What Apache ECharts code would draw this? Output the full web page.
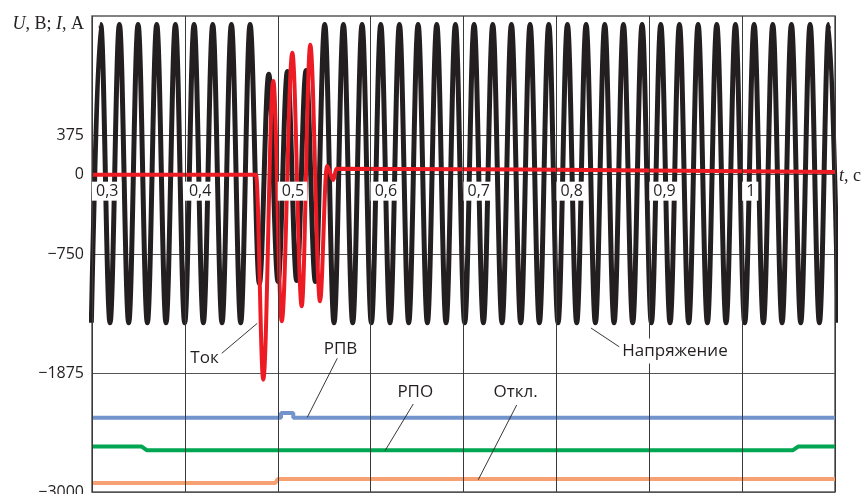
<!DOCTYPE html>
<html><head><meta charset="utf-8">
<script src="https://cdn.jsdelivr.net/npm/echarts@6/dist/echarts.min.js"></script>
<style>html,body{margin:0;padding:0;background:#fff}#c{width:866px;height:494px}</style>
</head><body><div id="c"></div>
<script>
// ---- data ----
const xTickLabels = ['0,3','0,4','0,5','0,6','0,7','0,8','0,9','1',''];
const yTickValues = [375, 0, -750, -1875, -3000];

// voltage extremes (peaks / troughs), time in s
const voltageTime = [
0.2993,0.3094,0.3194,0.3295,0.3395,0.3496,0.3596,0.3697,0.3797,0.3898,
0.3998,0.4099,0.4199,0.4300,0.4400,0.4501,0.4601,0.4702,0.4802,0.4903,
0.5003,0.5104,0.5204,0.5305,0.5405,0.5506,0.5606,0.5707,0.5807,0.5908,
0.6008,0.6109,0.6209,0.6310,0.6410,0.6511,0.6611,0.6712,0.6812,0.6913,
0.7013,0.7114,0.7214,0.7315,0.7415,0.7516,0.7616,0.7717,0.7817,0.7918,
0.8018,0.8119,0.8219,0.8320,0.8420,0.8521,0.8621,0.8722,0.8822,0.8923,
0.9023,0.9124,0.9224,0.9325,0.9425,0.9526,0.9626,0.9727,0.9827,0.9928,
1.0028,1.0129,1.0229,1.0330,1.0430,1.0531,1.0631,1.0732,1.0832,1.0933,
1.1033];
const voltageValue = [
-1400,1420,-1400,1420,-1400,1420,-1400,1420,-1400,1420,
-1400,1420,-1400,1420,-1400,1420,-1400,1420,-1030,950,
-1010,975,-1000,985,-1010,1420,-1400,1420,-1400,1420,
-1400,1420,-1400,1420,-1400,1420,-1400,1420,-1400,1420,
-1400,1420,-1400,1420,-1400,1420,-1400,1420,-1400,1420,
-1400,1420,-1400,1420,-1400,1420,-1400,1420,-1400,1420,
-1400,1420,-1400,1420,-1400,1420,-1400,1420,-1400,1420,
-1400,1420,-1400,1420,-1400,1420,-1400,1420,-1400,1420,
-1400];

// current
const currentTime  = [0.3000,0.4766,0.4844,0.4952,0.5043,0.5157,0.5258,0.5350,0.5455,0.5530,0.5598,0.5632,1.1000];
const currentValue = [0,0,-1938,886,-1386,1153,-1244,1229,-1197,82,-50,55,25];

// discrete signals
const rpvTime  = [0.3,0.5035,0.5035,0.5167,0.5167,1.1];
const rpvValue = [-2297,-2297,-2253,-2253,-2297,-2297];
const rpoTime  = [0.3,0.3535,0.3589,1.0548,1.0602,1.1];
const rpoValue = [-2571,-2571,-2605,-2605,-2571,-2571];
const otklTime  = [0.3,0.4974,0.5000,1.1];
const otklValue = [-2915,-2915,-2877,-2877];

// annotation anchors (data coordinates)
const annotations = [
  {text:'Ток',        at:[0.4211,-1733], from:[0.4397,-1689], to:[0.4780,-1405]},
  {text:'РПВ',        at:[0.5676,-1648], from:[0.5641,-1736], to:[0.5318,-2294]},
  {text:'РПО',        at:[0.6481,-2059], from:[0.6459,-2168], to:[0.6155,-2610]},
  {text:'Откл.',      at:[0.7562,-2059], from:[0.7573,-2177], to:[0.7159,-2884]},
  {text:'Напряжение', at:[0.9277,-1667], from:[0.8685,-1632], to:[0.8373,-1450], bg:true}
];

// ---- chart ----
const pairs = (xs, ys) => xs.map((x, i) => [x, ys[i]]);
const FONT = '"Open Sans", "Noto Sans", sans-serif';
const SERIF = '"Liberation Serif", "DejaVu Serif", serif';
const INK = '#231f20';
const GRID = {left:92, right:31, top:16, bottom:2};
const Y_MIN = -3000, Y_MAX = 1500;
const gridH = 494 - GRID.top - GRID.bottom;
const chart = echarts.init(document.getElementById('c'), null, {renderer:'canvas'});

chart.setOption({
  animation: false,
  grid: Object.assign({show:true, borderColor:'#5a5a5a', borderWidth:1.5,
         containLabel:false, outerBoundsMode:'none'}, GRID),
  xAxis: {
    type:'value', min:0.3, max:1.1, interval:0.1, z:10,
    position:'bottom', offset: -gridH * (0 - Y_MIN) / (Y_MAX - Y_MIN),
    name:'{i|t}{n|, с}', nameLocation:'end', nameGap:4, nameMoveOverlap:false,
    nameTextStyle:{align:'left', verticalAlign:'middle', padding:[4,0,0,0],
      rich:{i:{fontFamily:SERIF, fontStyle:'italic', fontSize:18, color:INK},
            n:{fontFamily:SERIF, fontSize:18, color:INK}}},
    axisLine:{show:false, onZero:false},
    axisTick:{show:false},
    axisLabel:{
      show:true, margin:7, align:'left', showMaxLabel:false,
      formatter: function (v) { return xTickLabels[Math.round((v - 0.3) / 0.1)] || ''; },
      backgroundColor:'#fff', padding:[2,3,1,4],
      fontFamily:FONT, fontSize:16, color:INK
    },
    splitLine:{show:true, lineStyle:{color:'#3a3a3a', width:1}}
  },
  yAxis: {
    type:'value', min:Y_MIN, max:Y_MAX, interval:375,
    axisLine:{show:false},
    axisTick:{show:false, customValues:yTickValues},
    axisLabel:{customValues:yTickValues, margin:8, fontFamily:FONT, fontSize:16, color:INK,
      formatter: v => String(v).replace('-', '\u2212')},
    splitLine:{show:true, lineStyle:{color:'#555', width:1}}
  },
  series: [
    {name:'Напряжение', type:'line', data:pairs(voltageTime, voltageValue), smooth:0.36, smoothMonotone:'x',
     showSymbol:false, symbol:'none', lineStyle:{color:INK, width:5, join:'round'}, z:2},
    {name:'Ток', type:'line', data:pairs(currentTime, currentValue), smooth:0.36, smoothMonotone:'x',
     showSymbol:false, symbol:'none', lineStyle:{color:'#ed1c24', width:4, join:'round'}, z:3},
    {name:'РПВ', type:'line', data:pairs(rpvTime, rpvValue), showSymbol:false, symbol:'none',
     lineStyle:{color:'#7393cc', width:4}, z:3},
    {name:'РПО', type:'line', data:pairs(rpoTime, rpoValue), showSymbol:false, symbol:'none',
     lineStyle:{color:'#00a651', width:4}, z:3},
    {name:'Откл.', type:'line', data:pairs(otklTime, otklValue), showSymbol:false, symbol:'none',
     lineStyle:{color:'#f7a173', width:4}, z:3}
  ]
});

const px = p => chart.convertToPixel({gridIndex:0}, p);
const graphics = [];
annotations.forEach(a => {
  const f = px(a.from), t = px(a.to), c = px(a.at);
  graphics.push({type:'line', z:100, silent:true,
    shape:{x1:f[0], y1:f[1], x2:t[0], y2:t[1]}, style:{stroke:INK, lineWidth:0.9}});
  const st = {text:a.text, font:'17px ' + FONT, fill:INK,
    textAlign:'center', textVerticalAlign:'middle', align:'center', verticalAlign:'middle'};
  if (a.bg) { st.backgroundColor = '#fff'; st.padding = [4,3,4,3]; }
  graphics.push({type:'text', z:101, silent:true, x:c[0], y:c[1], style:st});
});
graphics.push({type:'text', z:101, silent:true, x:84, y:24, style:{
  text:'{i|U}{n|, В; }{i|I}{n|, А}',
  textAlign:'right', textVerticalAlign:'middle', align:'right', verticalAlign:'middle',
  rich:{i:{fontFamily:SERIF, fontStyle:'italic', fontSize:18, fill:INK, color:INK},
        n:{fontFamily:SERIF, fontSize:18, fill:INK, color:INK}}
}});
chart.setOption({graphic:graphics});
</script>
</body></html>
